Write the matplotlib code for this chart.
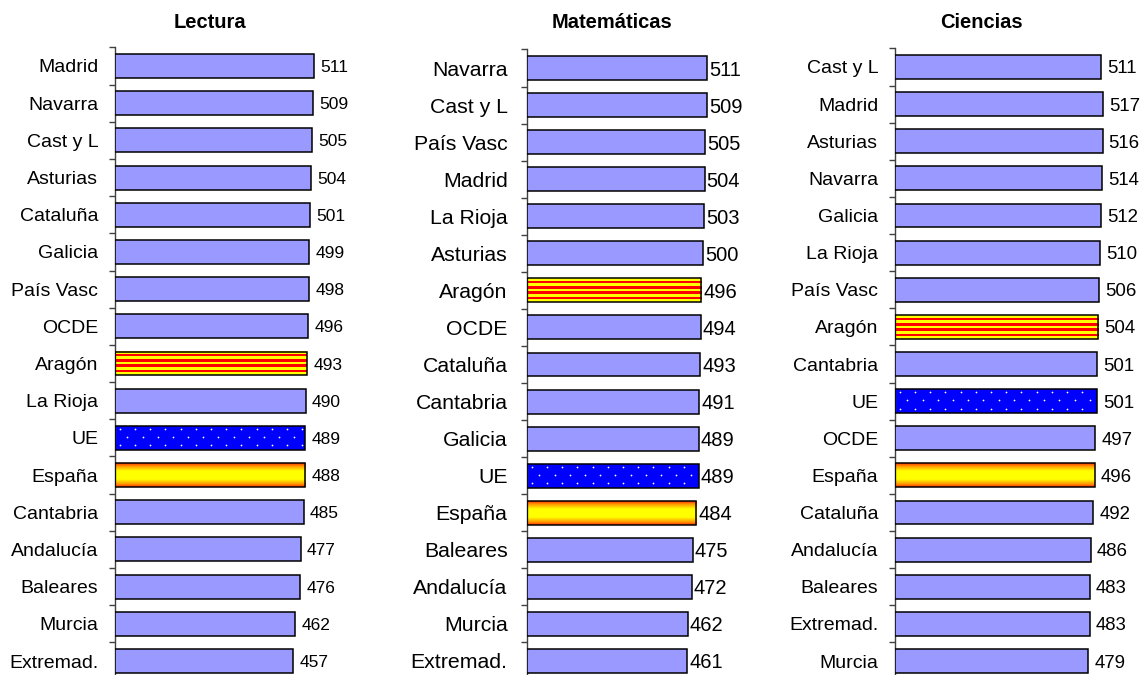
import numpy as np
import matplotlib
matplotlib.use("Agg")
import matplotlib.pyplot as plt
from matplotlib import font_manager
from matplotlib.colors import LinearSegmentedColormap, ListedColormap

# --- data -----------------------------------------------------------------
lectura_labels = ["Madrid", "Navarra", "Cast y L", "Asturias", "Cataluña", "Galicia",
                  "País Vasc", "OCDE", "Aragón", "La Rioja", "UE", "España",
                  "Cantabria", "Andalucía", "Baleares", "Murcia", "Extremad."]
lectura_values = [511, 509, 505, 504, 501, 499, 498, 496, 493, 490, 489, 488,
                  485, 477, 476, 462, 457]

mat_labels = ["Navarra", "Cast y L", "País Vasc", "Madrid", "La Rioja", "Asturias",
              "Aragón", "OCDE", "Cataluña", "Cantabria", "Galicia", "UE", "España",
              "Baleares", "Andalucía", "Murcia", "Extremad."]
mat_values = [511, 509, 505, 504, 503, 500, 496, 494, 493, 491, 489, 489, 484,
              475, 472, 462, 461]

cien_labels = ["Cast y L", "Madrid", "Asturias", "Navarra", "Galicia", "La Rioja",
               "País Vasc", "Aragón", "Cantabria", "UE", "OCDE", "España", "Cataluña",
               "Andalucía", "Baleares", "Extremad.", "Murcia"]
cien_values = [511, 517, 516, 514, 512, 510, 506, 504, 501, 501, 497, 496, 492,
               486, 483, 483, 479]

titles = ["Lectura", "Matemáticas", "Ciencias"]

# --- styling ----------------------------------------------------------------
W, H, DPI = 1145, 675, 100
available = {f.name for f in font_manager.fontManager.ttflist}
SANS = "Liberation Sans" if "Liberation Sans" in available else "DejaVu Sans"
plt.rcParams["font.family"] = [SANS, "DejaVu Sans"]

BAR_FACE = "#9999FF"
BAR_H = 0.645

stripe_cmap = ListedColormap(["#FFFF00", "#FF0000"])
spain_cmap = LinearSegmentedColormap.from_list(
    "spain", [(0.0, "#FFFF00"), (0.35, "#FFFF00"), (0.75, "#FF9900"), (1.0, "#FF3300")])

panels = [
    dict(labels=lectura_labels, values=lectura_values, title=titles[0],
         left=115, top=47.4, bottom=679.6, width=240, xmin=0.0, ppu=0.3894,
         lab_size=14.0, lab_pad=12, val_size=12.5, val_off=4.5, title_x=210),
    dict(labels=mat_labels, values=mat_values, title=titles[1],
         left=527, top=49.5, bottom=679.5, width=240, xmin=68.6, ppu=0.408,
         lab_size=15.3, lab_pad=14, val_size=14.5, val_off=1.5, title_x=612),
    dict(labels=cien_labels, values=cien_values, title=titles[2],
         left=895, top=48.4, bottom=679.6, width=240, xmin=-20.7, ppu=0.387,
         lab_size=14.0, lab_pad=12, val_size=13.4, val_off=4.3, title_x=981),
]

fig = plt.figure(figsize=(W / DPI, H / DPI), dpi=DPI)

for p in panels:
    labels, values = p["labels"], np.array(p["values"], dtype=float)
    n = len(labels)
    ax = fig.add_axes([p["left"] / W, 1 - p["bottom"] / H,
                       p["width"] / W, (p["bottom"] - p["top"]) / H])
    xmin = p["xmin"]
    xmax = xmin + p["width"] / p["ppu"]
    ypos = np.arange(n)

    faces = ["none" if lab in ("Aragón", "UE", "España") else BAR_FACE for lab in labels]
    bars = ax.barh(ypos, values - xmin, left=xmin, height=BAR_H, color=faces,
                   edgecolor="black", linewidth=1.1, zorder=3)

    ax.set_xlim(xmin, xmax)
    ax.set_ylim(n - 0.5, -0.5)

    for lab, y, v, bar in zip(labels, ypos, values, bars):
        ext = (xmin, v, y + BAR_H / 2, y - BAR_H / 2)
        if lab == "Aragón":
            stripes = (np.arange(9) % 2).reshape(-1, 1)
            ax.imshow(stripes, cmap=stripe_cmap, extent=ext, aspect="auto",
                      interpolation="nearest", zorder=2, origin="upper")
        elif lab == "España":
            t = np.linspace(-1, 1, 60)
            grad = np.abs(t).reshape(-1, 1)
            ax.imshow(grad, cmap=spain_cmap, vmin=0, vmax=1, extent=ext,
                      aspect="auto", interpolation="bilinear", zorder=2, origin="upper")
        elif lab == "UE":
            ax.barh([y], [v - xmin], left=xmin, height=BAR_H, color="#0000FF",
                    linewidth=0, zorder=2)
            # white dotted texture laid out in pixel space inside the bar
            (px0, py0), (px1, py1) = ax.transData.transform([(xmin, y - BAR_H / 2),
                                                             (v, y + BAR_H / 2)])
            ytop_px, ybot_px = max(py0, py1), min(py0, py1)
            pts = []
            row = 0
            yy = ytop_px - 2.8
            while yy > ybot_px + 1:
                xx = px0 + (4.7 if row % 2 == 0 else 12.3)
                while xx < px1 - 1:
                    pts.append((xx, yy))
                    xx += 15.2
                yy -= 8.4
                row += 1
            dpts = ax.transData.inverted().transform(np.array(pts))
            ax.scatter(dpts[:, 0], dpts[:, 1], s=1.6, color="white", linewidths=0,
                       zorder=2.5, clip_path=bar, clip_on=True)

        ax.annotate(f"{int(v)}", (v, y), xytext=(p["val_off"], 0),
                    textcoords="offset points", ha="left", va="center_baseline",
                    fontsize=p["val_size"], color="black")

    ax.set_xlim(xmin, xmax)
    ax.set_ylim(n - 0.5, -0.5)

    for side in ("top", "right", "bottom"):
        ax.spines[side].set_visible(False)
    ax.spines["left"].set_color("#404040")
    ax.spines["left"].set_linewidth(1.0)
    ax.set_xticks([])
    ax.set_yticks(ypos)
    ax.set_yticklabels(labels, fontsize=p["lab_size"])
    for tl in ax.get_yticklabels():
        tl.set_verticalalignment("center_baseline")
    ax.set_yticks(np.arange(n + 1) - 0.5, minor=True)
    ax.tick_params(axis="y", which="major", length=0, pad=p["lab_pad"])
    ax.tick_params(axis="y", which="minor", length=4.5, width=1.0, color="#404040",
                   direction="out")
    ax.patch.set_visible(False)

    fig.text(p["title_x"] / W, 1 - 22 / H, p["title"], ha="center", va="center",
             fontsize=14.5, fontweight="bold")

fig.savefig("out.png", dpi=DPI, facecolor="white")
